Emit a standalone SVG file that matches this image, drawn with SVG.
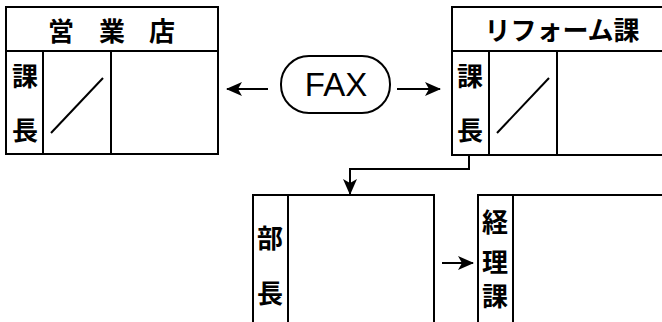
<svg xmlns="http://www.w3.org/2000/svg" width="662" height="322" viewBox="0 0 662 322">
<style>
.box{fill:none;stroke:#000;stroke-width:2}
.ln{fill:none;stroke:#000;stroke-width:2}
.jp{font-family:"Noto Sans CJK JP","Noto Sans CJK SC",sans-serif;font-size:26px;font-weight:bold;fill:#000}
.en{font-family:"Liberation Sans",Arial,sans-serif;font-size:33px;fill:#000}
</style>
<defs>
<marker id="ah" viewBox="0 0 16 14" refX="15" refY="7" markerWidth="16" markerHeight="14" markerUnits="userSpaceOnUse" orient="auto">
<path d="M0,0 L16,7 L0,14 L4,7 Z" fill="#000"/>
</marker>
</defs>
<rect width="662" height="322" fill="#fff"/>
<g id="eigyoten">
<rect class="box" x="6" y="7" width="212" height="147"/>
<line class="ln" x1="6" y1="51" x2="218" y2="51"/>
<line class="ln" x1="43" y1="51" x2="43" y2="154"/>
<line class="ln" x1="111" y1="51" x2="111" y2="154"/>
<line class="ln" x1="51" y1="133" x2="103" y2="78"/>
<text class="jp" x="48 99 149" y="41">営業店</text>
<text class="jp" x="25" y="86" text-anchor="middle">課</text>
<text class="jp" x="25" y="140" text-anchor="middle">長</text>
</g>
<g id="reform">
<rect class="box" x="452" y="7" width="215" height="148"/>
<line class="ln" x1="452" y1="51" x2="662" y2="51"/>
<line class="ln" x1="489" y1="51" x2="489" y2="155"/>
<line class="ln" x1="557" y1="51" x2="557" y2="155"/>
<line class="ln" x1="497" y1="133" x2="549" y2="78"/>
<text class="jp" x="562" y="40" text-anchor="middle" font-size="25">リフォーム課</text>
<text class="jp" x="470" y="86" text-anchor="middle">課</text>
<text class="jp" x="470" y="140" text-anchor="middle">長</text>
</g>
<g id="fax">
<rect class="box" x="281" y="56" width="109" height="57" rx="28" ry="28" stroke-width="1.8"/>
<text class="en" x="336" y="96" text-anchor="middle">FAX</text>
</g>
<g id="bucho">
<rect class="box" x="253" y="195" width="181" height="140"/>
<line class="ln" x1="288" y1="195" x2="288" y2="322"/>
<text class="jp" x="270" y="248" text-anchor="middle" font-size="27">部</text>
<text class="jp" x="270" y="303" text-anchor="middle" font-size="27">長</text>
</g>
<g id="keiri">
<rect class="box" x="478" y="195" width="200" height="140"/>
<line class="ln" x1="513" y1="195" x2="513" y2="322"/>
<text class="jp" x="495" y="232" text-anchor="middle" font-size="23">経</text>
<text class="jp" x="495" y="272" text-anchor="middle" font-size="23">理</text>
<text class="jp" x="495" y="306" text-anchor="middle" font-size="23">課</text>
</g>
<g id="connectors">
<line class="ln" x1="268" y1="89" x2="227" y2="89" marker-end="url(#ah)"/>
<line class="ln" x1="397" y1="89" x2="440" y2="89" marker-end="url(#ah)"/>
<polyline class="ln" points="469,155 469,169 350,169 350,194" marker-end="url(#ah)"/>
<line class="ln" x1="442" y1="263" x2="473" y2="263" marker-end="url(#ah)"/>
</g>
</svg>
